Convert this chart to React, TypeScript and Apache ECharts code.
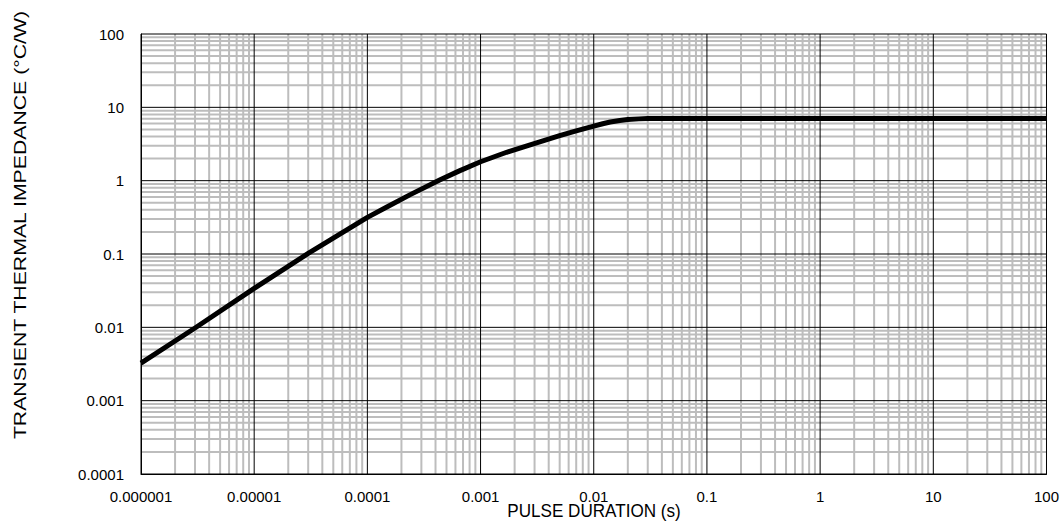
import React, { useEffect, useRef } from "react";
import * as echarts from "echarts";

const xTicks = [1e-6, 1e-5, 1e-4, 1e-3, 1e-2, 1e-1, 1, 10, 100];
const yTicks = [1e-4, 1e-3, 1e-2, 1e-1, 1, 10, 100];
const xTickLabels = ["0.000001", "0.00001", "0.0001", "0.001", "0.01", "0.1", "1", "10", "100"];
const yTickLabels = ["0.0001", "0.001", "0.01", "0.1", "1", "10", "100"];

const pulseDuration = [1e-6, 3e-6, 1e-5, 3e-5, 1e-4, 1.5e-4, 2.37e-4, 4.35e-4, 6.5e-4, 1e-3, 1.7e-3, 2.7e-3, 5e-3, 7e-3, 1e-2, 1.2e-2, 1.4e-2, 1.7e-2, 2e-2, 2.5e-2, 3e-2, 4e-2, 5e-2, 1e-1, 1, 10, 100];
const impedance = [0.00325, 0.0098, 0.034, 0.102, 0.316, 0.44, 0.64, 1.02, 1.36, 1.81, 2.44, 3.06, 4.11, 4.77, 5.55, 5.98, 6.3, 6.62, 6.82, 6.96, 7.02, 7.05, 7.06, 7.06, 7.06, 7.06, 7.06];

const minorSteps = [2, 3, 4, 5, 6, 7, 8, 9];
const xName = "PULSE DURATION (s)";
const yName = "TRANSIENT THERMAL IMPEDANCE (°C/W)";

export default function App() {
  const ref = useRef<HTMLDivElement>(null);
  useEffect(() => {
    document.body.style.margin = "0";
    const chart = echarts.init(ref.current!, null, { renderer: "svg" });
    const xMin = xTicks[0], xMax = xTicks[xTicks.length - 1];
    const yMin = yTicks[0], yMax = yTicks[yTicks.length - 1];
    const minorData: any[] = [];
    const majorData: any[] = [];
    xTicks.slice(0, -1).forEach((d) =>
      minorSteps.forEach((m) => minorData.push([d * m, yMin], [d * m, yMax], [d * m, "-"]))
    );
    yTicks.slice(0, -1).forEach((d) =>
      minorSteps.forEach((m) => minorData.push([xMin, d * m], [xMax, d * m], [xMax, "-"]))
    );
    xTicks.slice(1, -1).forEach((v) => majorData.push([v, yMin], [v, yMax], [v, "-"]));
    yTicks.slice(1, -1).forEach((v) => majorData.push([xMin, v], [xMax, v], [xMax, "-"]));
    const fmt = (ticks: number[], labels: string[]) => (v: number) => {
      for (let i = 0; i < ticks.length; i++) {
        if (Math.abs(Math.log10(v) - Math.log10(ticks[i])) < 1e-6) return labels[i];
      }
      return "";
    };
    const font = "Liberation Sans, Arial, sans-serif";
    chart.setOption({
      animation: false,
      grid: { left: 141, right: 15, top: 34, bottom: 50, show: true, borderColor: "#000", borderWidth: 1, z: 3 },
      graphic: [
        {
          type: "text",
          x: 20,
          y: 225,
          rotation: Math.PI / 2,
          scaleX: 1.25,
          style: { text: yName, font: "17px " + font, fill: "#000", align: "center", verticalAlign: "middle" },
        },
        {
          type: "text",
          x: 594,
          y: 511,
          scaleX: 0.9,
          style: { text: xName, font: "19px " + font, fill: "#000", align: "center", verticalAlign: "middle" },
        },
      ],
      xAxis: {
        type: "log",
        logBase: 10,
        min: xMin,
        max: xMax,
        axisLine: { lineStyle: { color: "#000", width: 1 } },
        axisTick: { show: false },
        splitLine: { show: false },
        z: 3,
        axisLabel: { formatter: fmt(xTicks, xTickLabels), fontFamily: font, fontSize: 15, color: "#000", margin: 15 },
      },
      yAxis: {
        type: "log",
        logBase: 10,
        min: yMin,
        max: yMax,
        axisLine: { lineStyle: { color: "#000", width: 1 } },
        axisTick: { show: false },
        splitLine: { show: false },
        z: 3,
        axisLabel: { formatter: fmt(yTicks, yTickLabels), fontFamily: font, fontSize: 15, color: "#000", margin: 17 },
      },
      series: [
        {
          type: "line",
          data: minorData,
          silent: true,
          z: 1,
          showSymbol: false,
          connectNulls: false,
          lineStyle: { color: "#bdbdbd", width: 2 },
        },
        {
          type: "line",
          data: majorData,
          silent: true,
          z: 2,
          showSymbol: false,
          connectNulls: false,
          lineStyle: { color: "#000", width: 1 },
        },
        {
          type: "line",
          z: 5,
          data: pulseDuration.map((t, i) => [t, impedance[i]]),
          showSymbol: false,
          smooth: false,
          lineStyle: { color: "#000", width: 5, join: "round", cap: "butt" },
        },
      ],
    });
    return () => chart.dispose();
  }, []);
  return <div ref={ref} style={{ width: 1062, height: 524 }} />;
}
